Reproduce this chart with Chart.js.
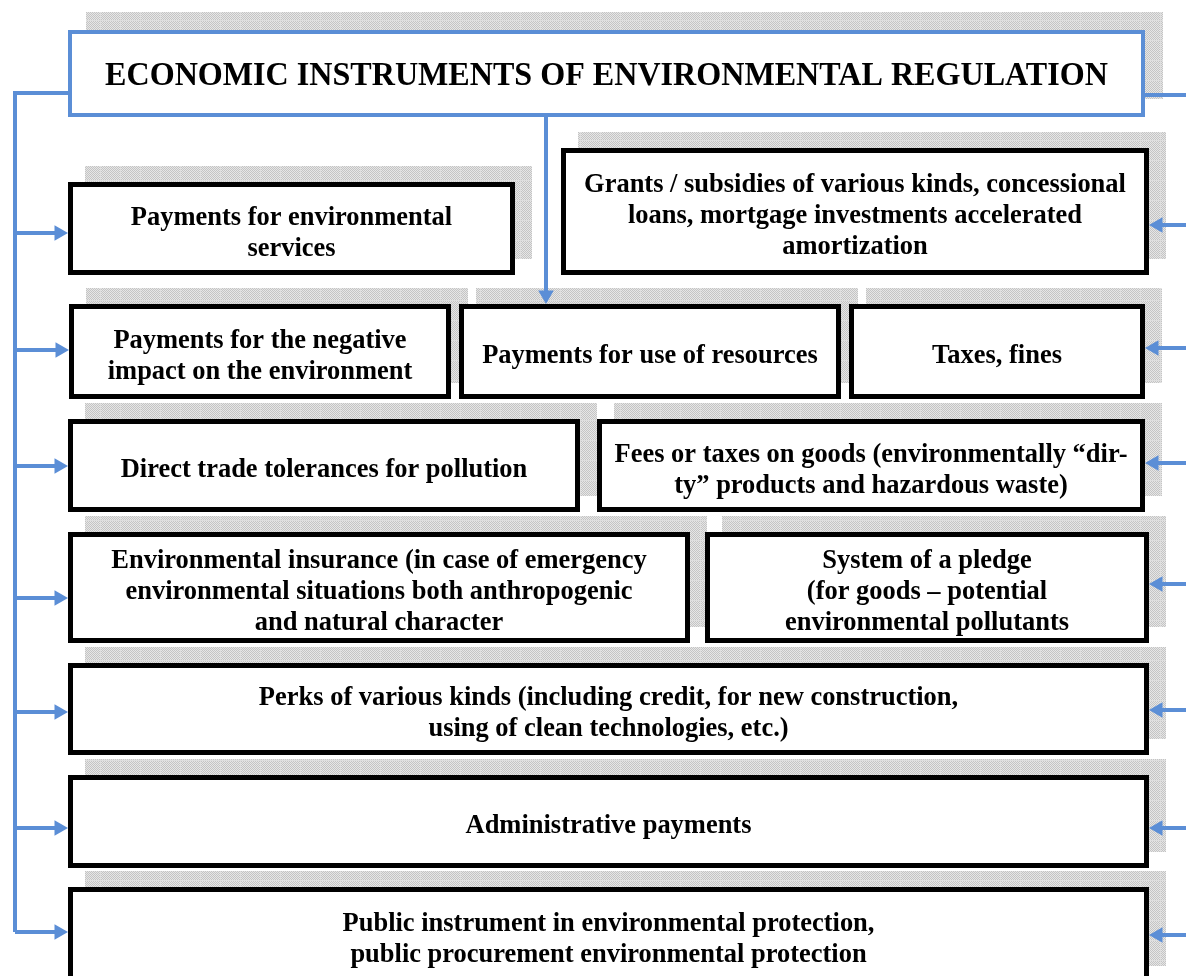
<!DOCTYPE html>
<html lang="en">
<head>
<meta charset="UTF-8">
<title>Economic instruments of environmental regulation</title>
<script src="https://cdn.jsdelivr.net/npm/chart.js"></script>
<style>
    body {
        margin: 0;
        background: #fff;
    }
    #diagram {
        display: block;
    }
</style>
</head>
<body>
<canvas id="diagram" width="1186" height="976"></canvas>
<script>
// Boxes of the scheme (page pixels, y grows downward)
var titleText = 'ECONOMIC INSTRUMENTS OF ENVIRONMENTAL REGULATION';
var titleSpan = [68, 1145, 30, 117]; // left, right, top, bottom

var boxLines = [
    ['Payments for environmental', 'services'],
    ['Grants / subsidies of various kinds, concessional', 'loans, mortgage investments accelerated', 'amortization'],
    ['Payments for the negative', 'impact on the environment'],
    ['Payments for use of resources'],
    ['Taxes, fines'],
    ['Direct trade tolerances for pollution'],
    ['Fees or taxes on goods (environmentally \u201cdir-', 'ty\u201d products and hazardous waste)'],
    ['Environmental insurance (in case of emergency', 'environmental situations both anthropogenic', 'and natural character'],
    ['System of a pledge', '(for goods \u2013 potential', 'environmental pollutants'],
    ['Perks of various kinds (including credit, for new construction,', 'using of clean technologies, etc.)'],
    ['Administrative payments'],
    ['Public instrument in environmental protection,', 'public procurement environmental protection']
];
var boxLeft   = [68, 561, 69, 459, 849, 68, 597, 68, 705, 68, 68, 68];
var boxRight  = [515, 1149, 451, 841, 1145, 580, 1145, 690, 1149, 1149, 1149, 1149];
var boxTop    = [182, 148, 304, 304, 304, 419, 419, 532, 532, 663, 775, 887];
var boxBottom = [275, 275, 399, 399, 399, 512, 512, 643, 643, 755, 868, 982];

// connectors: left trunk feeding boxes, arrows coming in from the right edge
var trunkX = 15;
var trunkTopY = 93;
var leftArrowBox  = [0, 2, 5, 7, 9, 10, 11];
var leftArrowY    = [233, 350, 466, 598, 712, 828, 932];
var rightArrowBox = [1, 4, 6, 8, 9, 10, 11];
var rightArrowY   = [225, 348, 463, 584, 710, 828, 935];
var titleRightY = 95;
var centerArrowX = 546;
var centerArrowBox = 3;

var blue = '#5b8ed6';
var head = 9; // arrow head radius

function arrow(points, rotation) {
    var n = points.length;
    return {
        data: points,
        showLine: true,
        borderColor: blue,
        borderWidth: 4,
        borderCapStyle: 'butt',
        borderJoinStyle: 'miter',
        fill: false,
        pointStyle: 'triangle',
        pointRadius: points.map(function (p, i) { return (i === n - 1 && rotation !== null) ? head : 0; }),
        pointRotation: rotation === null ? 0 : rotation,
        pointBackgroundColor: blue,
        pointBorderWidth: 0
    };
}

var datasets = [];
// trunk on the left
datasets.push(arrow([
    { x: titleSpan[0], y: trunkTopY },
    { x: trunkX, y: trunkTopY },
    { x: trunkX, y: leftArrowY[leftArrowY.length - 1] }
], null));
// line leaving the title to the right
datasets.push(arrow([
    { x: titleSpan[1], y: titleRightY },
    { x: 1186, y: titleRightY }
], null));
// arrow from the title down to "payments for use of resources"
datasets.push(arrow([
    { x: centerArrowX, y: titleSpan[3] },
    { x: centerArrowX, y: boxTop[centerArrowBox] - head }
], 180));
leftArrowY.forEach(function (y, i) {
    datasets.push(arrow([
        { x: trunkX, y: y },
        { x: boxLeft[leftArrowBox[i]] - head, y: y }
    ], 90));
});
rightArrowY.forEach(function (y, i) {
    datasets.push(arrow([
        { x: 1186, y: y },
        { x: boxRight[rightArrowBox[i]] + head, y: y }
    ], 270));
});

// dotted grey shadow like the original
function shadowPattern(ctx) {
    var c = document.createElement('canvas');
    c.width = 20;
    c.height = 20;
    var p = c.getContext('2d');
    p.fillStyle = '#e6e6e6';
    p.fillRect(0, 0, 20, 20);
    p.fillStyle = '#c4c4c4';
    for (var i = 0; i < 20; i++) {
        for (var j = 0; j < 20; j++) {
            if ((i + j) % 2 === 0) p.fillRect(i, j, 1, 1);
        }
    }
    p.fillStyle = '#dedede';
    p.fillRect(0, 0, 20, 1);
    p.fillRect(0, 0, 1, 20);
    return ctx.createPattern(c, 'repeat');
}

function drawLines(ctx, lines, cx, cy, size, squeeze, gap) {
    ctx.font = 'bold ' + size + 'px "Liberation Serif", "Times New Roman", serif';
    ctx.fillStyle = '#000';
    ctx.textAlign = 'center';
    ctx.textBaseline = 'middle';
    var y0 = cy - (lines.length - 1) * gap / 2;
    lines.forEach(function (line, k) {
        ctx.save();
        ctx.translate(cx, y0 + k * gap);
        ctx.scale(squeeze, 1);
        ctx.fillText(line, 0, 0);
        ctx.restore();
    });
}

var boxesPlugin = {
    id: 'boxes',
    beforeDatasetsDraw: function (chart) {
        var ctx = chart.ctx;
        var xs = chart.scales.x, ys = chart.scales.y;
        var pat = shadowPattern(ctx);
        ctx.save();
        // shadows first
        ctx.fillStyle = pat;
        ctx.fillRect(xs.getPixelForValue(titleSpan[0]) + 18, ys.getPixelForValue(titleSpan[2]) - 18,
            titleSpan[1] - titleSpan[0], titleSpan[3] - titleSpan[2]);
        boxLines.forEach(function (_, i) {
            var x0 = xs.getPixelForValue(boxLeft[i]), x1 = xs.getPixelForValue(boxRight[i]);
            var y0 = ys.getPixelForValue(boxTop[i]), y1 = ys.getPixelForValue(boxBottom[i]);
            ctx.fillRect(x0 + 17, y0 - 16, x1 - x0, y1 - y0);
        });
        // title box
        var tx0 = xs.getPixelForValue(titleSpan[0]), tx1 = xs.getPixelForValue(titleSpan[1]);
        var ty0 = ys.getPixelForValue(titleSpan[2]), ty1 = ys.getPixelForValue(titleSpan[3]);
        ctx.fillStyle = '#fff';
        ctx.fillRect(tx0, ty0, tx1 - tx0, ty1 - ty0);
        ctx.strokeStyle = blue;
        ctx.lineWidth = 4;
        ctx.strokeRect(tx0 + 2, ty0 + 2, tx1 - tx0 - 4, ty1 - ty0 - 4);
        drawLines(ctx, [titleText], (tx0 + tx1) / 2, (ty0 + ty1) / 2 + 3, 34, 0.944, 0);
        // the boxes
        boxLines.forEach(function (lines, i) {
            var x0 = xs.getPixelForValue(boxLeft[i]), x1 = xs.getPixelForValue(boxRight[i]);
            var y0 = ys.getPixelForValue(boxTop[i]), y1 = ys.getPixelForValue(boxBottom[i]);
            ctx.fillStyle = '#fff';
            ctx.fillRect(x0, y0, x1 - x0, y1 - y0);
            ctx.strokeStyle = '#000';
            ctx.lineWidth = 5;
            ctx.strokeRect(x0 + 2.5, y0 + 2.5, x1 - x0 - 5, y1 - y0 - 5);
            drawLines(ctx, lines, (x0 + x1) / 2, (y0 + y1) / 2 + 5, 27, 0.98, 31);
        });
        ctx.restore();
    }
};

var chart = new Chart(document.getElementById('diagram').getContext('2d'), {
    type: 'scatter',
    data: { datasets: datasets },
    options: {
        responsive: false,
        animation: false,
        events: [],
        layout: { padding: 0, autoPadding: false },
        plugins: {
            legend: { display: false },
            tooltip: { enabled: false }
        },
        scales: {
            x: { type: 'linear', min: 0, max: 1186, display: false },
            y: { type: 'linear', min: 0, max: 976, reverse: true, display: false }
        }
    },
    plugins: [boxesPlugin]
});
</script>
</body>
</html>
